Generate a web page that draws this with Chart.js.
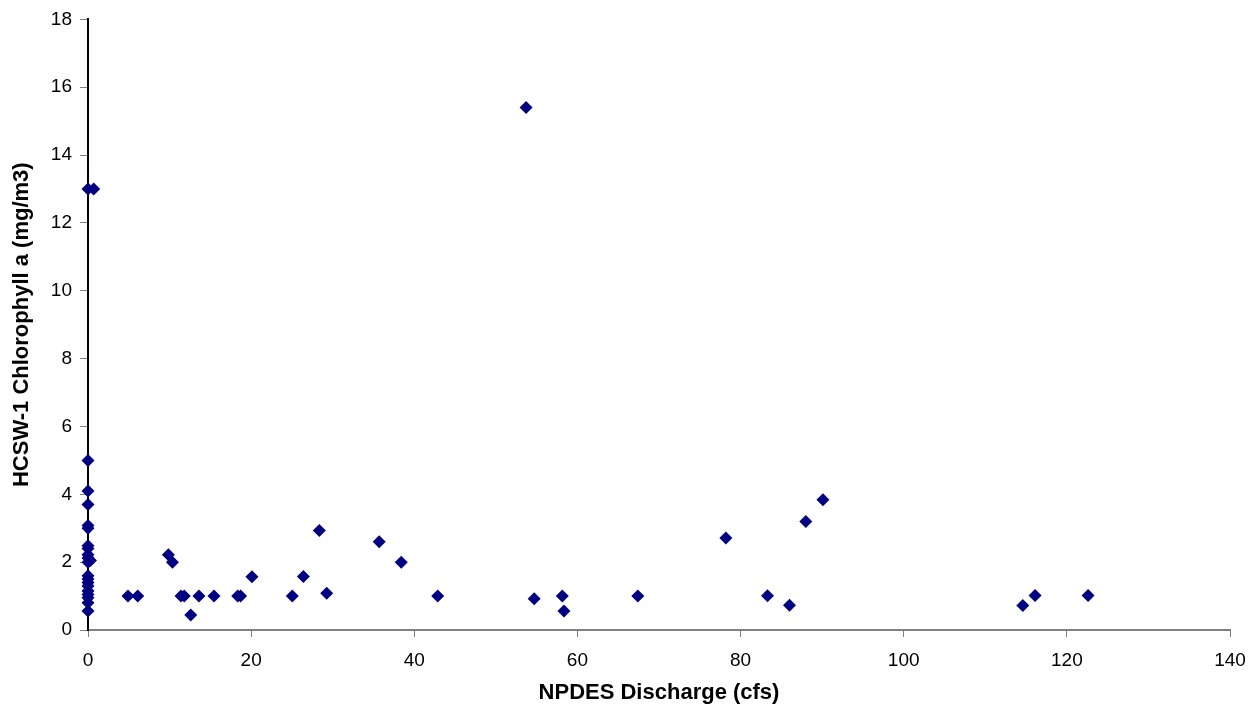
<!DOCTYPE html>
<html>
<head>
<meta charset="utf-8">
<script src="https://cdn.jsdelivr.net/npm/chart.js@4/dist/chart.umd.min.js"></script>
<style>
  html, body { margin: 0; padding: 0; background: #fff; }
  #wrap { width: 1260px; height: 706px; }
</style>
</head>
<body>
<div id="wrap"><canvas id="scatter-chart"></canvas></div>
<script>
// NPDES discharge (cfs) and HCSW-1 chlorophyll a (mg/m3)
const discharge = [
  0, 0.7, 0, 0, 0, 0, 0, 0, 0, 0, 0, 0.3, 0, 0, 0, 0, 0, 0, 0, 0, 0, 0,
  4.9, 6.1, 9.85, 10.35, 11.4, 11.8, 12.6, 13.6, 15.45, 18.35, 18.7, 20.1,
  25.05, 26.4, 28.36, 29.26, 35.7, 38.4, 42.87, 53.7, 54.7, 58.15, 58.35,
  67.4, 78.2, 83.3, 86.0, 88.0, 90.1, 114.6, 116.1, 122.6
];
const chlorophyll = [
  13, 13, 5.0, 4.1, 3.7, 3.08, 3.0, 2.48, 2.4, 2.22, 2.12, 2.05, 2.0, 1.6, 1.5, 1.4, 1.3, 1.15, 1.05, 0.95, 0.8, 0.56,
  1.0, 1.0, 2.22, 2.0, 1.0, 1.0, 0.44, 1.0, 1.0, 1.0, 1.0, 1.57,
  1.0, 1.58, 2.93, 1.08, 2.6, 2.0, 1.0, 15.4, 0.92, 1.0, 0.56,
  1.0, 2.71, 1.01, 0.73, 3.2, 3.84, 0.72, 1.02, 1.02
];
const xTitle = 'NPDES Discharge (cfs)';
const yTitle = 'HCSW-1 Chlorophyll a (mg/m3)';

const canvas = document.querySelector('#scatter-chart');
const tickFont = { family: '"Liberation Sans", Arial, sans-serif', size: 19 };
const titleFont = { family: '"Liberation Sans", Arial, sans-serif', size: 22, weight: 'bold' };

new Chart(canvas.getContext('2d'), {
  type: 'scatter',
  data: {
    datasets: [{
      label: yTitle,
      data: discharge.map((x, i) => ({ x: x, y: chlorophyll[i] })),
      pointStyle: 'rectRot',
      pointRadius: 6.5,
      pointHoverRadius: 6.5,
      backgroundColor: '#000080',
      borderColor: '#000080',
      borderWidth: 0,
      clip: false
    }]
  },
  options: {
    responsive: true,
    maintainAspectRatio: false,
    animation: false,
    layout: { padding: { top: 15, right: 30, left: 0, bottom: 0 } },
    plugins: { legend: { display: false }, tooltip: { enabled: false } },
    scales: {
      x: {
        type: 'linear',
        min: 0,
        max: 140,
        ticks: { stepSize: 20, color: '#000', font: tickFont, padding: 12, maxRotation: 0 },
        grid: { drawOnChartArea: false, drawTicks: true, tickLength: 7, color: '#808080' },
        border: { color: '#808080', width: 2 },
        title: { display: true, text: xTitle, color: '#000', font: titleFont, padding: { top: 6, bottom: 0 } },
        afterFit: scale => { scale.height = 76; }
      },
      y: {
        min: 0,
        max: 18,
        ticks: { stepSize: 2, color: '#000', font: tickFont, padding: 8 },
        grid: { drawOnChartArea: false, drawTicks: true, tickLength: 8, color: '#808080' },
        border: { color: '#000', width: 2 },
        title: { display: true, text: yTitle, color: '#000', font: titleFont, padding: { top: 9, bottom: 4 } },
        afterFit: scale => { scale.width = 88; }
      }
    }
  }
});
</script>
</body>
</html>
